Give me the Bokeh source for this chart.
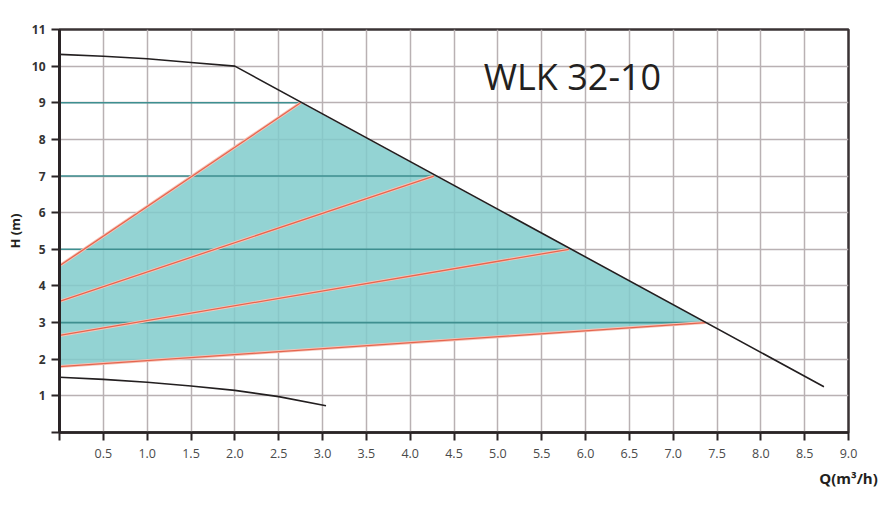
from bokeh.plotting import figure
from bokeh.models import FixedTicker, Label
from bokeh.embed import file_html
from bokeh.resources import INLINE

# ---- data ----
x_ticks = [0, 0.5, 1.0, 1.5, 2.0, 2.5, 3.0, 3.5, 4.0, 4.5, 5.0, 5.5, 6.0, 6.5, 7.0, 7.5, 8.0, 8.5, 9.0]
x_tick_labels = ["", "0.5", "1.0", "1.5", "2.0", "2.5", "3.0", "3.5", "4.0", "4.5", "5.0",
                 "5.5", "6.0", "6.5", "7.0", "7.5", "8.0", "8.5", "9.0"]
y_ticks = [0, 1, 2, 3, 4, 5, 6, 7, 8, 9, 10, 11]
y_tick_labels = ["", "1", "2", "3", "4", "5", "6", "7", "8", "9", "10", "11"]

# maximum curve
max_q = [0.0, 0.5, 1.0, 1.5, 2.0, 8.72]
max_h = [10.32, 10.27, 10.2, 10.1, 10.0, 1.25]
# minimum curve
min_q = [0.0, 0.5, 1.0, 1.5, 2.0, 2.5, 3.04]
min_h = [1.51, 1.45, 1.37, 1.27, 1.15, 0.98, 0.73]

# speed (control) lines: start head at Q=0 and end point on max curve
ctrl_h0 = [4.55, 3.58, 2.65, 1.80]
ctrl_qe = [2.75, 4.27, 5.81, 7.37]
ctrl_he = [9.0, 7.0, 5.0, 3.0]

title_text = "WLK 32-10"

# ---- figure ----
p = figure(width=880, height=500, x_range=(0, 9), y_range=(0, 11),
           output_backend="svg", toolbar_location=None,
           min_border_left=59, min_border_right=32, min_border_top=29, min_border_bottom=68)
p.background_fill_color = "white"
p.border_fill_color = "white"
p.outline_line_color = "#3a3335"
p.outline_line_width = 2.5

p.xaxis.ticker = FixedTicker(ticks=x_ticks)
p.yaxis.ticker = FixedTicker(ticks=y_ticks)
p.xaxis.major_label_overrides = {t: l for t, l in zip(x_ticks, x_tick_labels)}
p.yaxis.major_label_overrides = {t: l for t, l in zip(y_ticks, y_tick_labels)}

for ax in (p.xaxis, p.yaxis):
    ax.axis_line_color = "#2a2426"
    ax.major_tick_line_color = "#2a2426"
    ax.major_tick_line_width = 2
    ax.major_tick_in = 0
    ax.major_tick_out = 8
    ax.minor_tick_line_color = None
    ax.major_label_text_font = "Open Sans"
p.xaxis.major_label_text_font_size = "12.5px"
p.yaxis.major_label_text_font_size = "12px"
p.xaxis.axis_line_width = 2.5
p.yaxis.axis_line_width = 3
p.xaxis.major_label_text_color = "#4a4a4a"
p.yaxis.major_label_text_color = "#333333"
p.yaxis.major_label_text_font_style = "bold"
p.xaxis.major_label_standoff = 8
p.yaxis.major_label_standoff = 6

p.xaxis.axis_label = "Q(m³/h)"
p.xaxis.axis_label_align = "end"
p.xaxis.axis_label_standoff = 7
p.xaxis.axis_label_text_font = "Open Sans"
p.xaxis.axis_label_text_font_size = "15px"
p.xaxis.axis_label_text_font_style = "bold"
p.xaxis.axis_label_text_color = "#231f20"

p.yaxis.axis_label = "H (m)"
p.yaxis.axis_label_standoff = 5
p.yaxis.axis_label_text_font = "Open Sans"
p.yaxis.axis_label_text_font_size = "13px"
p.yaxis.axis_label_text_font_style = "bold"
p.yaxis.axis_label_text_color = "#231f20"

p.xgrid.ticker = FixedTicker(ticks=x_ticks)
p.ygrid.ticker = FixedTicker(ticks=y_ticks)
for g in (p.xgrid, p.ygrid):
    g.grid_line_color = "#b9b1b3"
    g.grid_line_width = 1.5

# shaded operating area
fill_q = [0.0, ctrl_qe[3], ctrl_qe[0], 0.0]
fill_h = [ctrl_h0[3], ctrl_he[3], ctrl_he[0], ctrl_h0[0]]
p.patch(fill_q, fill_h, fill_color="#80cbcb", fill_alpha=0.85, line_color=None)

# horizontal constant-pressure lines
for qe, he in zip(ctrl_qe, ctrl_he):
    p.line([0.0, qe], [he, he], line_color="#3e8f90", line_width=1.6)

# control lines
for h0, qe, he in zip(ctrl_h0, ctrl_qe, ctrl_he):
    p.line([0.0, qe], [h0, he], line_color="#f6c4b8", line_width=3)
    p.line([0.0, qe], [h0, he], line_color="#e5664f", line_width=1.3)

# max / min curves
p.line(max_q, max_h, line_color="#231f20", line_width=1.6)
p.line(min_q, min_h, line_color="#231f20", line_width=1.6)

# title
p.add_layout(Label(x=4.84, y=9.72, text=title_text, text_font="Open Sans",
                   text_font_size="36px", text_color="#231f20",
                   text_baseline="middle", text_align="left"))

open("out.html", "w").write(file_html(p, INLINE))
